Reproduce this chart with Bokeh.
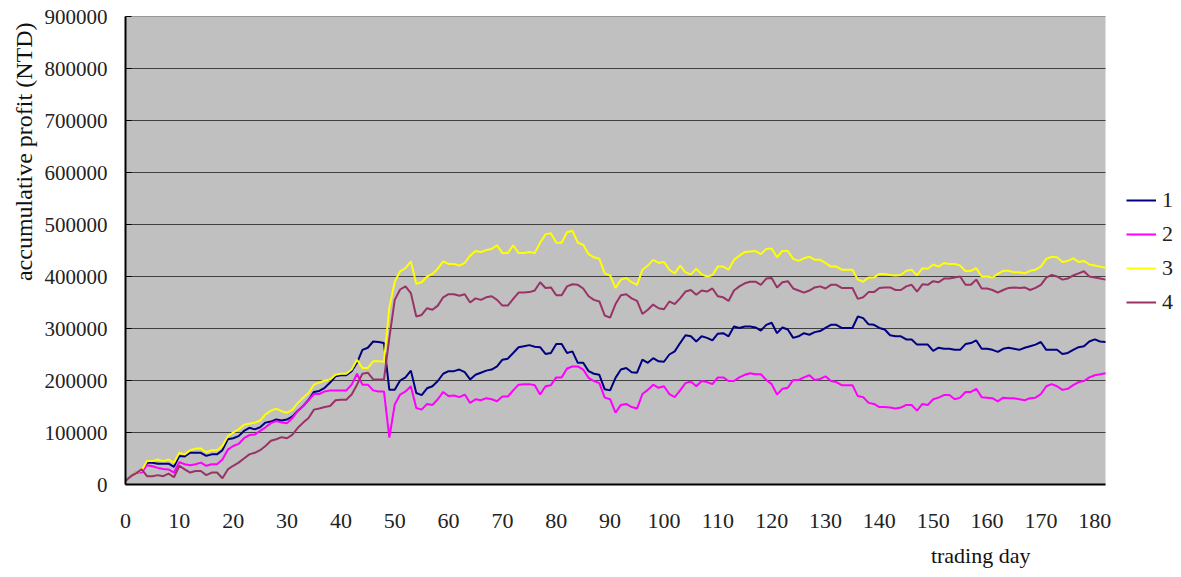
import math
from bokeh.plotting import figure
from bokeh.models import (Range1d, FixedTicker, BasicTickFormatter, Legend,
                          LegendItem, Title, BoxAnnotation)
from bokeh.embed import file_html
from bokeh.resources import INLINE

# ---------------- data (accumulative profit, thousands of NTD) ----------------
days = list(range(183))

series_1_k = [
    7, 16, 23, 25, 42, 42, 40, 40, 40, 34,
    55, 54, 61, 61, 61, 55, 58, 58, 66, 87,
    89, 93, 103, 109, 106, 110, 119, 121, 125, 123,
    125, 131, 142, 151, 163, 178, 180, 186, 196, 208,
    210, 210, 218, 234, 259, 263, 275, 274, 272, 182,
    182, 200, 206, 219, 176, 172, 185, 189, 199, 213,
    218, 218, 221, 216, 202, 211, 215, 219, 221, 227,
    240, 242, 253, 264, 266, 268, 265, 264, 251, 253,
    270, 270, 253, 256, 234, 234, 218, 213, 211, 183,
    181, 205, 221, 224, 216, 215, 240, 234, 243, 237,
    236, 250, 256, 272, 287, 285, 275, 285, 282, 277,
    290, 291, 285, 304, 301, 304, 304, 302, 296, 307,
    311, 291, 302, 298, 282, 285, 291, 288, 293, 295,
    301, 307, 307, 301, 301, 301, 323, 320, 308, 307,
    301, 298, 287, 285, 285, 279, 279, 269, 269, 269,
    257, 263, 261, 261, 259, 259, 270, 272, 277, 261,
    261, 259, 255, 261, 263, 261, 259, 263, 266, 269,
    274, 259, 259, 259, 251, 253, 259, 264, 266, 275,
    279, 275, 274,
]

series_2_k = [
    7, 16, 23, 23, 37, 35, 32, 30, 29, 23,
    43, 39, 37, 39, 42, 36, 39, 39, 48, 67,
    74, 78, 89, 95, 96, 103, 110, 118, 122, 119,
    118, 128, 141, 151, 162, 174, 174, 179, 181, 181,
    181, 181, 192, 213, 192, 192, 181, 179, 179, 90,
    154, 173, 179, 189, 147, 144, 155, 153, 164, 178,
    170, 171, 168, 173, 157, 164, 162, 166, 164, 160,
    169, 169, 181, 192, 193, 193, 191, 173, 189, 191,
    206, 206, 223, 227, 227, 221, 205, 199, 195, 167,
    164, 138, 153, 155, 149, 146, 174, 182, 192, 186,
    189, 174, 168, 181, 195, 198, 189, 199, 197, 193,
    206, 206, 199, 199, 206, 211, 214, 212, 212, 201,
    193, 173, 184, 186, 201, 201, 206, 210, 201, 203,
    208, 199, 197, 191, 191, 191, 170, 168, 157, 155,
    149, 149, 148, 146, 148, 153, 153, 142, 155, 153,
    164, 167, 172, 172, 164, 167, 178, 178, 184, 168,
    167, 166, 160, 167, 166, 166, 164, 162, 166, 167,
    174, 189, 193, 189, 182, 184, 191, 197, 199, 206,
    210, 212, 214,
]

series_3_k = [
    7, 16, 23, 27, 45, 45, 48, 45, 48, 42,
    61, 58, 66, 69, 69, 62, 66, 66, 74, 93,
    100, 106, 115, 117, 119, 123, 135, 142, 146, 141,
    138, 144, 157, 167, 176, 192, 196, 200, 202, 211,
    213, 213, 221, 240, 224, 224, 237, 237, 236, 340,
    390, 410, 416, 429, 386, 389, 400, 405, 415, 429,
    424, 424, 421, 426, 440, 449, 447, 451, 453, 460,
    445, 445, 460, 445, 445, 447, 445, 465, 481, 483,
    465, 465, 485, 488, 465, 461, 443, 437, 434, 406,
    402, 378, 394, 397, 389, 384, 413, 421, 432, 426,
    428, 413, 406, 421, 408, 404, 415, 404, 400, 403,
    419, 419, 413, 432, 440, 447, 448, 449, 443, 453,
    454, 437, 449, 449, 434, 430, 435, 438, 432, 432,
    426, 419, 419, 413, 413, 413, 394, 390, 398, 398,
    405, 405, 403, 402, 403, 411, 413, 402, 416, 415,
    423, 419, 426, 424, 424, 421, 410, 411, 416, 400,
    400, 398, 405, 411, 411, 408, 408, 406, 411, 413,
    419, 434, 438, 437, 428, 430, 435, 428, 430, 423,
    421, 419, 417,
]

series_4_k = [
    7, 16, 22, 29, 16, 16, 18, 16, 21, 14,
    36, 29, 23, 26, 26, 18, 23, 23, 12, 29,
    36, 42, 50, 58, 61, 66, 74, 84, 87, 91,
    89, 96, 109, 119, 128, 144, 146, 149, 151, 162,
    163, 163, 173, 192, 213, 215, 202, 202, 202, 282,
    355, 375, 381, 368, 323, 326, 339, 336, 344, 360,
    366, 366, 363, 366, 350, 358, 355, 360, 362, 355,
    344, 344, 357, 369, 369, 370, 373, 389, 378, 379,
    364, 364, 381, 385, 384, 377, 362, 355, 352, 325,
    321, 347, 364, 366, 358, 353, 328, 336, 346, 339,
    337, 352, 347, 358, 371, 374, 365, 373, 371, 377,
    362, 360, 353, 373, 381, 387, 390, 390, 384, 396,
    397, 379, 389, 391, 377, 373, 369, 373, 379, 381,
    377, 384, 384, 378, 378, 378, 357, 360, 370, 370,
    378, 379, 379, 374, 374, 381, 384, 371, 385, 384,
    391, 389, 396, 396, 398, 400, 384, 384, 394, 377,
    377, 374, 369, 374, 378, 379, 378, 379, 374, 378,
    384, 398, 403, 400, 394, 396, 402, 406, 410, 400,
    398, 396, 394,
]

series_names = ["1", "2", "3", "4"]
series_colors = ["#000080", "#FF00FF", "#FFFF00", "#993366"]
y_ticks = [0, 100000, 200000, 300000, 400000, 500000, 600000, 700000, 800000, 900000]
x_ticks = [0, 10, 20, 30, 40, 50, 60, 70, 80, 90, 100, 110, 120, 130, 140, 150, 160, 170, 180]

FONT = "Liberation Serif"
W, H = 1181, 577
LEFT, TOP, BOTTOM = 125, 16, 92
PLOT_W = 980                      # width of the grey plotting area in px
x_last = days[-1]
x_end = x_last * (W - LEFT) / PLOT_W   # extend frame to the right for the legend

p = figure(width=W, height=H, output_backend="svg", toolbar_location=None,
           x_range=Range1d(0, x_end), y_range=Range1d(0, 900000),
           min_border_left=LEFT, min_border_right=0, min_border_top=TOP,
           min_border_bottom=BOTTOM)
p.background_fill_color = "white"
p.border_fill_color = "white"
p.outline_line_color = None
p.xgrid.visible = False
p.ygrid.visible = False

# grey plot area limited to the data span
p.add_layout(BoxAnnotation(left=0, right=x_last, fill_color="#C0C0C0",
                           fill_alpha=1.0, line_color=None, level="underlay"))

# horizontal gridlines at the y ticks, limited to the data span
p.segment(x0=[0] * len(y_ticks), x1=[x_last] * len(y_ticks), y0=y_ticks, y1=y_ticks,
          line_color="#404040", line_width=1)

p.yaxis.ticker = FixedTicker(ticks=y_ticks)
p.yaxis.formatter = BasicTickFormatter(use_scientific=False)
p.yaxis.major_tick_in = 6
p.yaxis.major_tick_out = 0
p.yaxis.minor_tick_line_color = None
p.yaxis.axis_line_color = "black"
p.yaxis.axis_line_width = 2
p.yaxis.major_tick_line_color = "black"
p.yaxis.major_label_text_font = FONT
p.yaxis.major_label_text_font_size = "21px"
p.yaxis.major_label_text_color = "#222222"
p.yaxis.major_label_standoff = 18

p.xaxis.ticker = FixedTicker(ticks=x_ticks)
p.xaxis.bounds = (0, x_last)
p.xaxis.major_tick_in = 0
p.xaxis.major_tick_out = 0
p.xaxis.minor_tick_line_color = None
p.xaxis.axis_line_color = "black"
p.xaxis.axis_line_width = 2
p.xaxis.major_label_text_font = FONT
p.xaxis.major_label_text_font_size = "22px"
p.xaxis.major_label_text_color = "#222222"
p.xaxis.major_label_standoff = 29

renderers = []
for vals, col in zip([series_1_k, series_2_k, series_3_k, series_4_k], series_colors):
    r = p.line(days, [v * 1000 for v in vals], line_color=col, line_width=2)
    renderers.append(r)

legend = Legend(items=[LegendItem(label=n, renderers=[r]) for n, r in zip(series_names, renderers)],
                location=(1001, 169), orientation="vertical",
                glyph_width=30, glyph_height=24, label_height=24, spacing=8,
                padding=0, margin=0, border_line_color=None,
                background_fill_alpha=0, label_text_font=FONT,
                label_text_font_size="22px", label_text_color="#222222",
                label_standoff=6)
p.add_layout(legend)

ytitle = Title(text="accumulative profit (NTD)", align="right", offset=6,
               text_font=FONT, text_font_size="24px", text_color="#111111",
               text_font_style="normal")
p.add_layout(ytitle, "left")

xtitle = Title(text="trading day", align="right", offset=151, standoff=20,
               text_font=FONT, text_font_size="22px", text_color="#111111",
               text_font_style="normal")
p.add_layout(xtitle, "below")

open("out.html", "w").write(file_html(p, INLINE))
